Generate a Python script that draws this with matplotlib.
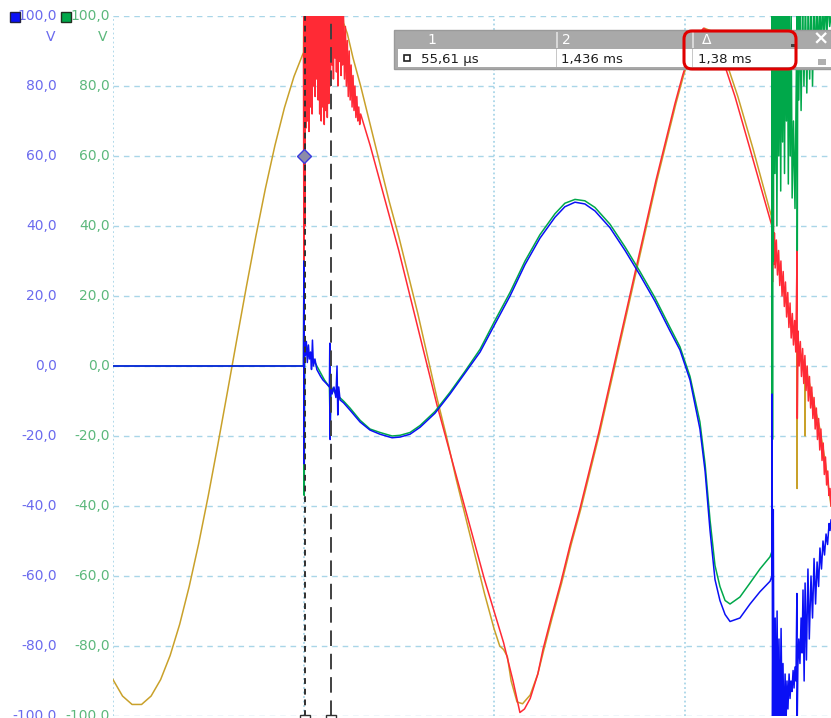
import matplotlib.pyplot as plt
from matplotlib.patches import Rectangle, FancyBboxPatch
from matplotlib.transforms import blended_transform_factory

# Tiempo en ms (0 = disparo), tension en V
niveles = [100, 80, 60, 40, 20, 0, -20, -40, -60, -80, -100]
rejilla_t = [-10, 0, 10, 20]

# Canal naranja (antes del evento, durante el ruido, bajada/subida, final)
nar_t = [-10, -9.5, -9, -8.5, -8, -7.5, -7, -6.5, -6, -5.5, -5, -4.5, -4, -3.5, -3, -2.5, -2, -1.5, -1, -0.5, 0,
         0.02, 0.06, 0.12, 0.2, 0.28, 0.36, 0.44, 0.52, 0.6, 0.7, 0.8, 0.9, 1.0, 1.1, 1.2, 1.3, 1.4, 1.5, 1.6, 1.7,
         1.8, 1.9, 2.0, 2.1,
         2.3, 2.6, 3.0, 3.5, 4.0, 4.5, 5.0, 5.5, 6.0, 6.5, 7.0, 7.5, 8.0, 8.5, 9.0, 9.5, 10.0, 10.3, 10.5, 10.7,
         10.9, 11.21, 11.5,
         11.9, 12.3, 12.62, 13.05, 13.55, 14.05, 14.55, 15.05, 15.55, 16.05, 16.55, 17.05, 17.55, 18.05, 18.55,
         19.05, 19.55, 19.95, 20.35, 20.75, 21.05, 21.5,
         22.0, 22.8, 23.6, 24.1, 24.55,
         24.65, 24.8, 25.0, 25.28, 25.54, 25.8, 25.9, 25.91, 25.93, 26.06, 26.32, 26.33, 26.35, 26.6, 26.85,
         27.11, 27.38, 27.69]
nar_v = [-89.6, -94.3, -96.7, -96.7, -94.3, -89.6, -82.7, -73.8, -63.0, -50.7, -37.1, -22.6, -7.6, 7.6, 22.6,
         37.1, 50.7, 63.0, 73.8, 82.7, 89.6,
         105, 88, 105, 85, 105, 90, 105, 84, 105, 88, 105, 86, 105, 90, 105, 84, 105, 88, 105, 92,
         105, 90, 105, 98,
         95, 88, 80, 69, 58, 47, 37, 26, 15, 3, -9, -20, -32, -43, -54, -65, -75, -80, -81, -83,
         -90, -96, -96.5,
         -94, -88, -81, -72, -62, -51, -41, -30, -19, -7, 5, 17, 29, 41, 53,
         64, 75, 83, 90, 94.5, 96.5, 95.5,
         90, 77, 62, 52, 43,
         38, 33, 28, 20, 13, 10, 8, -35, 8, 4, 0, -20, 0, -6, -12,
         -18, -27, -40]

# Canal rojo
rojo_t = [0.00, 0.02, 0.04, 0.07, 0.10, 0.13, 0.17, 0.21, 0.25, 0.29, 0.33, 0.37, 0.41, 0.45, 0.49, 0.53,
          0.57, 0.61, 0.65, 0.69, 0.73, 0.77, 0.81, 0.85, 0.89, 0.93, 0.97, 1.01, 1.05, 1.09, 1.13, 1.17,
          1.21, 1.25, 1.29, 1.33, 1.37, 1.41, 1.45, 1.49, 1.53, 1.57, 1.61, 1.65, 1.69, 1.73, 1.77, 1.81,
          1.85, 1.89, 1.93, 1.97, 2.01, 2.05, 2.10, 2.15, 2.20, 2.25, 2.30, 2.35, 2.40, 2.45, 2.50, 2.55,
          2.60, 2.65, 2.70, 2.75, 2.80, 2.85, 2.90, 2.95,
          3.0, 3.5, 4.0, 4.5, 5.0, 5.5, 6.0, 6.5, 7.0, 7.5, 8.0, 8.5, 9.0, 9.5, 10.0, 10.5, 11.0, 11.36,
          11.6, 11.9, 12.3, 12.57, 13.0, 13.5, 14.0, 14.5, 15.0, 15.5, 16.0, 16.5, 17.0, 17.5, 18.0, 18.5,
          19.0, 19.5, 19.9, 20.3, 20.7,
          21.0, 21.4, 21.86, 22.65, 23.44, 23.96, 24.49,
          24.59, 24.60, 24.62, 24.64, 24.68, 24.72, 24.76, 24.82, 24.88, 24.94, 25.00, 25.06, 25.12, 25.18,
          25.24, 25.30, 25.36, 25.42, 25.48, 25.54, 25.60, 25.66, 25.72, 25.78, 25.84, 25.91, 25.92, 25.96,
          26.02, 26.08, 26.14, 26.20, 26.26, 26.32, 26.38, 26.44, 26.50, 26.56, 26.62, 26.68, 26.74, 26.80,
          26.86, 26.92, 26.98, 27.04, 27.10, 27.16, 27.22, 27.28, 27.34, 27.40, 27.46, 27.52, 27.58, 27.64,
          27.69]
rojo_v = [89, 30, 105, 40, 105, 68, 105, 70, 105, 67, 105, 74, 105, 72, 105, 80,
          105, 77, 105, 82, 105, 76, 105, 72, 105, 70, 105, 74, 105, 69, 105, 73,
          105, 71, 105, 75, 105, 80, 105, 86, 105, 82, 105, 88, 105, 84, 105, 80,
          105, 87, 105, 83, 105, 86, 100, 82, 97, 80, 93, 77, 90, 76, 86, 74,
          83, 73, 80, 71, 77, 70, 74, 69,
          72, 63, 53, 43, 33, 22, 11, 0, -11, -21, -31, -41, -51, -61, -70, -79, -90, -99,
          -98, -95, -88, -81, -72, -62, -51, -41, -30, -19, -7, 5, 17, 29, 41, 53,
          64, 75, 83, 90, 94.5,
          96.5, 95, 90, 77, 62, 52, 42,
          40, 105, 24, 77, 29, 38, 28, 36, 26, 33, 23, 30, 20, 27,
          17, 24, 14, 21, 11, 18, 8, 15, 6, 13, 4, 33, -15, 10,
          0, 7, -3, 5, -5, 3, -7, 0, -10, -3, -12, -6, -15, -9,
          -18, -12, -21, -15, -24, -18, -27, -22, -31, -26, -34, -30, -37, -35,
          -40]

# Canal azul
azul_t = [-10, 0.0, 0.02, 0.035, 0.05, 0.1, 0.15, 0.2, 0.26, 0.31, 0.37, 0.42, 0.47, 0.52, 0.6, 0.7, 0.8, 0.9,
          1.02, 1.2, 1.36, 1.38, 1.40, 1.43, 1.5, 1.6, 1.7, 1.76, 1.8, 1.85, 1.92,
          2.1, 2.44, 2.97, 3.49, 4.02, 4.65, 5.07, 5.59, 6.12, 6.90, 7.69, 8.48, 9.27, 10.05, 10.84, 11.63,
          12.41, 13.20, 13.72, 14.25, 14.77, 15.30, 16.09, 16.88, 17.66, 18.45, 19.24, 19.76, 20.29, 20.81,
          21.08, 21.34, 21.60, 21.86, 22.13, 22.39, 22.91, 23.44, 23.96, 24.49, 24.59,
          24.60, 24.62, 24.66, 24.70, 24.76, 24.80, 24.86, 24.91, 24.96, 25.01, 25.07, 25.12, 25.17, 25.22,
          25.28, 25.33, 25.38, 25.43, 25.49, 25.54, 25.59, 25.64, 25.70, 25.75, 25.80, 25.85, 25.90, 25.91,
          25.95, 26.00, 26.06, 26.12, 26.17, 26.22, 26.28, 26.33, 26.40, 26.48, 26.55, 26.64, 26.72, 26.80,
          26.88, 26.96, 27.04, 27.11, 27.19, 27.27, 27.35, 27.43, 27.51, 27.59, 27.64, 27.69]
azul_v = [0, 0, 30, -28, 8, 3, 7, 1, 6, 2, 4, -1, 7.4, 0, 2, -1, -2, -3,
          -4, -5, -6, 6.5, -21, -4, -8, -6, -9, 0, -14, -6, -9.7,
          -10.5, -12.6, -16, -18.3, -19.5, -20.5, -20.3, -19.5, -17.5, -13.5, -8, -2, 4, 12, 20, 29,
          36.5, 42.5, 45.5, 46.8, 46.3, 44.3, 39.5, 33, 26, 18.5, 10, 4.6, -4, -18,
          -30, -47, -61, -67, -71, -73, -72, -68, -64.5, -61.5, -60,
          -8, -105, -41, -105, -72, -105, -70, -105, -78, -105, -75, -100, -85, -105,
          -88, -102, -90, -98, -88, -95, -90, -93, -87, -92, -86, -90, -65, -105,
          -86, -78, -85, -72, -82, -64, -90, -62, -84, -58, -78, -60, -72, -55,
          -68, -56, -63, -52, -58, -50, -54, -48, -51, -45, -47, -44]

# Canal verde
verde_t = [-10, 0.0, 0.02, 0.04, 0.06, 0.15, 0.3, 0.5, 0.8, 1.1, 1.36, 1.40, 1.45, 1.7,
           2.1, 2.44, 2.97, 3.49, 4.02, 4.65, 5.07, 5.59, 6.12, 6.90, 7.69, 8.48, 9.27, 10.05, 10.84, 11.63,
           12.41, 13.20, 13.72, 14.25, 14.77, 15.30, 16.09, 16.88, 17.66, 18.45, 19.24, 19.76, 20.29, 20.81,
           21.08, 21.34, 21.60, 21.86, 22.13, 22.39, 22.91, 23.44, 23.96, 24.49, 24.59,
           24.60, 24.62, 24.64, 24.66, 24.70, 24.75, 24.80, 24.85, 24.90, 24.95, 25.0, 25.05, 25.10, 25.15,
           25.20, 25.25, 25.30, 25.35, 25.40, 25.45, 25.50, 25.55, 25.60, 25.65, 25.72, 25.80, 25.91, 25.92,
           25.95, 26.0, 26.06, 26.12, 26.2, 26.27, 26.35, 26.42, 26.5, 26.57, 26.65, 26.72, 26.8, 26.87,
           26.95, 27.02, 27.1, 27.17, 27.25, 27.32, 27.4, 27.47, 27.55, 27.62, 27.69]
verde_v = [0, 0, 30, -37, 5, 6, 3, 2, -1, -4, -6, -18, -6, -8,
           -10, -12, -15.5, -18, -19, -20, -19.8, -19, -17, -13, -7.5, -1.5, 4.8, 13, 21, 30,
           37.5, 43.5, 46.5, 47.6, 47.2, 45.3, 40.5, 34, 27, 19.5, 11, 5.5, -3, -16,
           -28, -44, -57, -63, -67, -68, -66, -62, -58, -54.5, -53,
           105, -21, 105, 30, 105, 55, 105, 40, 105, 60, 105, 50, 105, 64,
           105, 55, 105, 70, 105, 52, 105, 60, 100, 48, 70, 45, 105, 33,
           105, 76, 105, 73, 105, 80, 105, 78, 105, 82, 105, 80, 105, 86,
           105, 88, 105, 90, 105, 92, 105, 94, 105, 97, 100]

# Cursores y lecturas
cursor1 = 0.05561
cursor2 = 1.436
lecturas = ['55,61 µs', '1,436 ms', '1,38 ms']
cabecera = ['1', '2', 'Δ']

azul_txt = '#6a6aee'
verde_txt = '#5cb87c'
color_rejilla = '#a9d6e8'

fig = plt.figure(figsize=(8.31, 7.18), dpi=100)
ax = fig.add_axes([113 / 831, 2 / 718, (831 - 113) / 831, 700 / 718])
ax.set_xlim(-10, 27.69)
ax.set_ylim(-100, 100)
for s in ax.spines.values():
    s.set_visible(False)
ax.set_xticks([])
ax.set_yticks([])

for n in niveles:
    ax.axhline(n, color=color_rejilla, lw=1, ls=(0, (4, 3.5)), zorder=0)
for t in rejilla_t:
    ax.axvline(t, color=color_rejilla, lw=1.3, ls=(0, (1, 1.5)), zorder=0)

ax.plot(nar_t, nar_v, color='#c9a12a', lw=1.1, zorder=2)
ax.plot(rojo_t, rojo_v, color='#ff2a35', lw=1.1, zorder=3)
ax.plot(verde_t, verde_v, color='#00a84a', lw=1.1, zorder=4)
ax.plot(azul_t, azul_v, color='#0a10f5', lw=1.1, zorder=5)

# cursores
ax.axvline(cursor1, color='#303030', lw=1.4, ls=(0, (3, 2.5)), zorder=6)
ax.axvline(cursor2, color='#404040', lw=1.4, ls=(0, (8, 4)), zorder=6)
ax.plot([cursor1, cursor2], [-101, -101], ls='none', marker='s', ms=7, mfc='white', mec='#303030',
        mew=1, clip_on=False, zorder=7)
ax.plot([0], [60], marker='D', ms=7, mfc='#8c8ca8', mec='#3a3ae0', mew=1, zorder=7)

# etiquetas del eje (dos columnas)
tr = blended_transform_factory(fig.dpi_scale_trans, ax.transData)
for n in niveles:
    txt = f'{n:.1f}'.replace('.', ',')
    ax.text(0.57, n, txt, transform=tr, ha='right', va='center', color=azul_txt, fontsize=10, clip_on=False)
    ax.text(1.10, n, txt, transform=tr, ha='right', va='center', color=verde_txt, fontsize=10, clip_on=False)

def P(x, y):
    return (x / 100, (718 - y) / 100)

fig.text(*P(51, 37), 'V', transform=fig.dpi_scale_trans, ha='center', va='center', color=azul_txt, fontsize=10)
fig.text(*P(103, 37), 'V', transform=fig.dpi_scale_trans, ha='center', va='center', color=verde_txt, fontsize=10)
fig.add_artist(Rectangle(P(10, 22), 0.1, 0.1, transform=fig.dpi_scale_trans, fc='#0a10f5', ec='#202040', lw=1))
fig.add_artist(Rectangle(P(61, 22), 0.1, 0.1, transform=fig.dpi_scale_trans, fc='#00a84a', ec='#203020', lw=1))

# caja de medidas
fig.add_artist(Rectangle(P(394, 69), 4.5, 0.39, transform=fig.dpi_scale_trans, fc='#a9a9a9', ec='#9a9a9a', lw=1))
fig.add_artist(Rectangle(P(398, 67), 4.5, 0.18, transform=fig.dpi_scale_trans, fc='white', ec='none'))
for xs in [556, 692]:
    fig.add_artist(Rectangle(P(xs, 48), 0.015, 0.16, transform=fig.dpi_scale_trans, fc='#d8d8d8', ec='none'))
    fig.add_artist(Rectangle(P(xs, 67), 0.01, 0.18, transform=fig.dpi_scale_trans, fc='#c8c8c8', ec='none'))
for xc, h in zip([427, 562, 702], cabecera):
    fig.text(*P(xc, 40), h, transform=fig.dpi_scale_trans, ha='left', va='center', color='white', fontsize=10)
for xc, l in zip([421, 561, 698], lecturas):
    fig.text(*P(xc, 59), l, transform=fig.dpi_scale_trans, ha='left', va='center', color='#1e1e1e', fontsize=9.5)
fig.add_artist(Rectangle(P(404, 61), 0.06, 0.06, transform=fig.dpi_scale_trans, fc='white', ec='#202020', lw=1.2))
fig.text(*P(821, 39), '×', transform=fig.dpi_scale_trans, ha='center', va='center', color='white',
         fontsize=14, fontweight='bold')
fig.add_artist(Rectangle(P(791, 47), 0.05, 0.025, transform=fig.dpi_scale_trans, fc='#404040', ec='none'))
fig.add_artist(Rectangle(P(818, 65), 0.08, 0.06, transform=fig.dpi_scale_trans, fc='#b0b0b0', ec='none'))
fig.add_artist(FancyBboxPatch(P(684, 69), 1.12, 0.38, boxstyle='round,pad=0,rounding_size=0.08',
                              transform=fig.dpi_scale_trans, fc='none', ec='#e00000', lw=2.2))

fig.savefig('out.png', dpi=100)
